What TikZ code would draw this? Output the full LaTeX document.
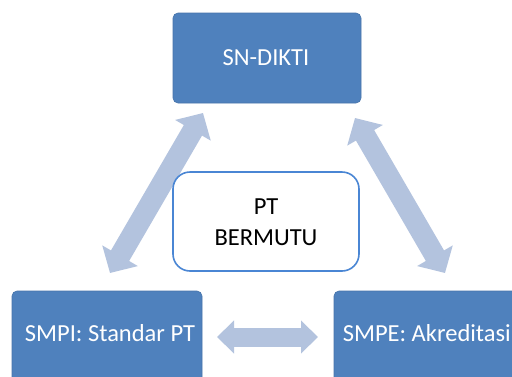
\documentclass[tikz,border=0pt]{standalone}
\usepackage{fontspec}
\setmainfont{Carlito}
\usetikzlibrary{arrows.meta}
\definecolor{boxblue}{HTML}{4F81BD}
\definecolor{arrowblue}{HTML}{B3C3DE}
\definecolor{edgeblue}{HTML}{4A86D4}
\begin{document}
\begin{tikzpicture}[x=1pt,y=-1pt,
  bluebox/.style={fill=boxblue, draw=boxblue!90!black, line width=0.6pt, rounded corners=5pt},
  boxtext/.style={text=white, font=\fontsize{24.5}{29}\selectfont},
  bigarrow/.style={draw=arrowblue, line width=21pt,
    {Triangle[width=40pt,length=20pt]}-{Triangle[width=40pt,length=20pt]}},
  smallarrow/.style={draw=arrowblue, line width=19pt,
    {Triangle[width=32pt,length=17pt]}-{Triangle[width=32pt,length=17pt]}}
]
\clip (0,0) rectangle (512,376);
\fill[white] (0,0) rectangle (512,376);
% boxes
\draw[bluebox] (173,13) rectangle (361,103);
\node[boxtext] (sn) at (266,58) {SN-DIKTI};
\draw[bluebox] (12,291) rectangle (202,420);
\node[boxtext] (smpi) at (110,333) {SMPI: Standar PT};
\draw[bluebox] (334,291) rectangle (530,420);
\node[boxtext, anchor=east, inner xsep=0pt] (smpe) at (511,333) {SMPE: Akreditasi};
% arrow endpoints
\coordinate (la) at (110,273);
\coordinate (lb) at (203,113);
\coordinate (ra) at (355,118);
\coordinate (rb) at (445,273);
\coordinate (ba) at (217,337);
\coordinate (bb) at (318,337);
\draw[bigarrow] (la) -- (lb);
\draw[bigarrow] (ra) -- (rb);
\draw[smallarrow] (ba) -- (bb);
% center box
\draw[draw=edgeblue, fill=white, line width=1.6pt, rounded corners=17pt] (173,172) rectangle (359,271);
\node[font=\fontsize{24.5}{31}\selectfont, align=center, text=black] (pt) at (266,222) {PT\\BERMUTU};
\end{tikzpicture}
\end{document}
